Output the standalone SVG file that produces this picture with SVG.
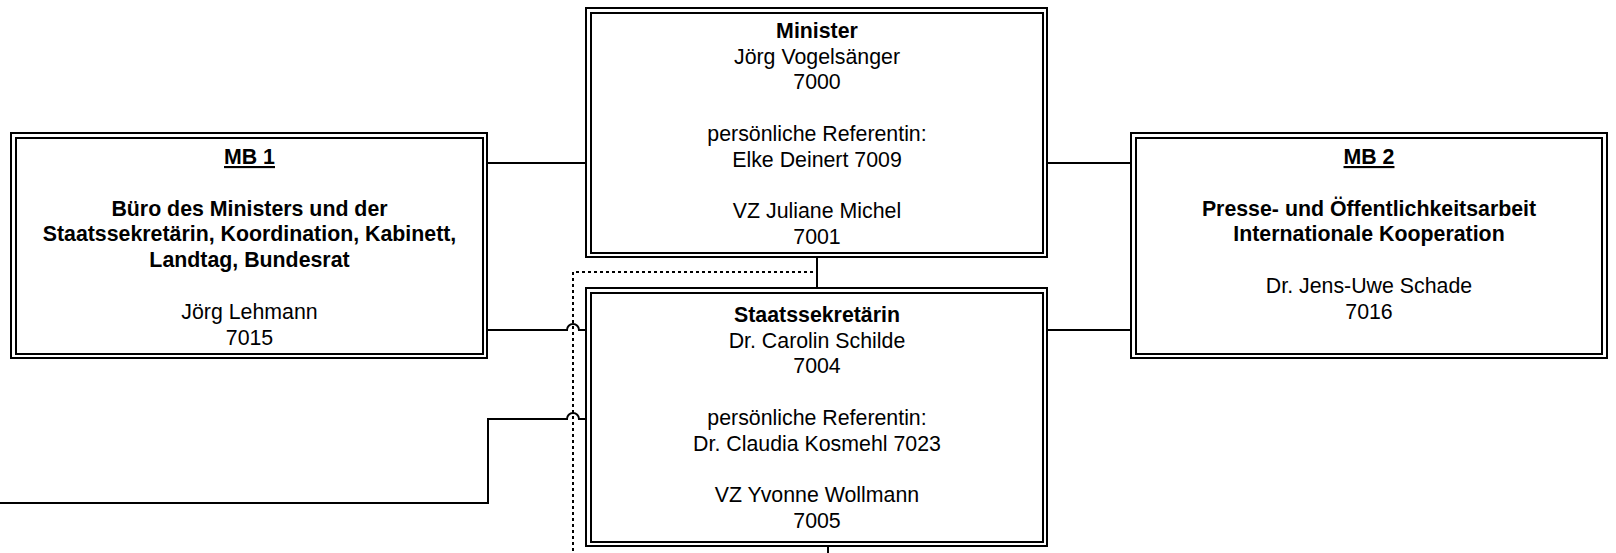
<svg xmlns="http://www.w3.org/2000/svg" width="1616" height="553" viewBox="0 0 1616 553">
<style>
.box rect{fill:none;stroke:#000;stroke-width:2}
.bg{fill:#fff;stroke:none}
text{font-family:"Liberation Sans",Arial,sans-serif;font-size:21.33px;fill:#000;text-anchor:middle}
.b{font-weight:bold}
.u{font-weight:bold;text-decoration:underline}
.conn path{fill:none;stroke:#000;stroke-width:2}
.conn .dot{stroke-dasharray:3,3}
</style>
<rect x="0" y="0" width="1616" height="553" fill="#fff"/>
<g class="conn" id="connectors">
<path d="M487 163H586"/>
<path d="M1047 163H1131"/>
<path d="M817 257V288"/>
<path d="M487 330H567A6 6 0 0 1 579 330H586"/>
<path d="M1047 330H1131"/>
<path d="M0 503H488V419H567A6 6 0 0 1 579 419H586"/>
<path class="dot" d="M813 272H573V553"/>
<path d="M828 546V553"/>
</g>
<g id="minister" class="box">
<rect x="586" y="8" width="461" height="249"/>
<rect x="591" y="13" width="452" height="240"/>
<text x="817" y="37.8" class="b">Minister</text>
<text x="817" y="63.6">Jörg Vogelsänger</text>
<text x="817" y="89.4">7000</text>
<text x="817" y="141">persönliche Referentin:</text>
<text x="817" y="166.8">Elke Deinert 7009</text>
<text x="817" y="218.4">VZ Juliane Michel</text>
<text x="817" y="244.2">7001</text>
</g>
<g id="staatssekretaerin" class="box">
<rect x="586" y="288" width="461" height="258"/>
<rect x="591" y="293" width="452" height="249"/>
<text x="817" y="321.8" class="b">Staatssekretärin</text>
<text x="817" y="347.6">Dr. Carolin Schilde</text>
<text x="817" y="373.4">7004</text>
<text x="817" y="425">persönliche Referentin:</text>
<text x="817" y="450.8">Dr. Claudia Kosmehl 7023</text>
<text x="817" y="502.4">VZ Yvonne Wollmann</text>
<text x="817" y="528.2">7005</text>
</g>
<g id="mb1" class="box">
<rect x="11" y="133" width="476" height="225"/>
<rect x="16" y="138" width="467" height="216"/>
<text x="249.5" y="164" class="u">MB 1</text>
<text x="249.5" y="215.6" class="b">Büro des Ministers und der</text>
<text x="249.5" y="241.4" class="b">Staatssekretärin, Koordination, Kabinett,</text>
<text x="249.5" y="267.2" class="b">Landtag, Bundesrat</text>
<text x="249.5" y="318.8">Jörg Lehmann</text>
<text x="249.5" y="344.6">7015</text>
</g>
<g id="mb2" class="box">
<rect x="1131" y="133" width="476" height="225"/>
<rect x="1136" y="138" width="466" height="216"/>
<text x="1369" y="164" class="u">MB 2</text>
<text x="1369" y="215.6" class="b">Presse- und Öffentlichkeitsarbeit</text>
<text x="1369" y="241.4" class="b">Internationale Kooperation</text>
<text x="1369" y="293">Dr. Jens-Uwe Schade</text>
<text x="1369" y="318.8">7016</text>
</g>
</svg>
